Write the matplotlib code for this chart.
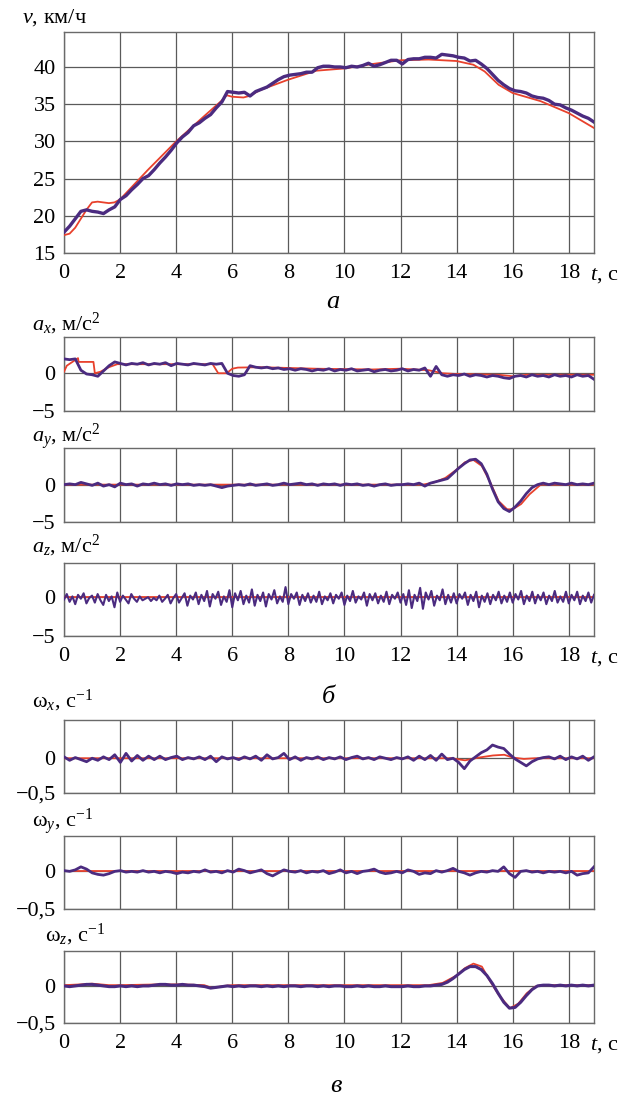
import matplotlib
matplotlib.use('Agg')

import numpy as np
import matplotlib.pyplot as plt

plt.rcParams['font.family'] = ['Liberation Serif', 'DejaVu Serif']
plt.rcParams['mathtext.fontset'] = 'custom'
plt.rcParams['mathtext.rm'] = 'Liberation Serif'
plt.rcParams['mathtext.it'] = 'Liberation Serif:italic'

PURPLE = '#4b2b80'
RED = '#e8412c'
GRID = '#5a5a5a'

# ---- data ----
T_END = 18.9
x_ticks = [0, 2, 4, 6, 8, 10, 12, 14, 16, 18]

# a) speed, km/h
v_meas = [17.8, 18.6, 19.6, 20.6, 20.8, 20.6, 20.5, 20.3, 20.8, 21.2,
          22.2, 22.7, 23.5, 24.2, 25.0, 25.4, 26.2, 27.1, 27.9, 28.8,
          29.8, 30.6, 31.2, 32.1, 32.5, 33.1, 33.6, 34.5, 35.3, 36.7,
          36.6, 36.5, 36.6, 36.1, 36.7, 37.0, 37.3, 37.8, 38.3, 38.7,
          38.9, 39.0, 39.1, 39.3, 39.3, 39.9, 40.1, 40.1, 40.0, 40.0,
          39.9, 40.1, 40.0, 40.2, 40.5, 40.1, 40.3, 40.6, 40.9, 40.9,
          40.4, 41.0, 41.1, 41.1, 41.3, 41.3, 41.2, 41.7, 41.6, 41.5,
          41.3, 41.2, 40.8, 40.9, 40.4, 39.8, 39.0, 38.2, 37.6, 37.1,
          36.8, 36.7, 36.5, 36.1, 35.9, 35.8, 35.5, 35.0, 34.9, 34.5,
          34.2, 33.8, 33.4, 33.1, 32.6]
v_model_t = [0, 0.2, 0.4, 0.6, 0.8, 1.0, 1.2, 1.6, 1.8, 2.0, 3.0, 4.0, 5.0, 5.6,
             5.8, 6.0, 6.4, 6.6, 7.0, 8.0, 9.0, 10.0, 11.0, 12.0, 13.0, 14.0,
             14.6, 15.0, 15.5, 16.0, 17.0, 18.0, 18.9]
v_model = [17.4, 17.6, 18.4, 19.6, 20.8, 21.8, 21.9, 21.7, 21.8, 22.2, 26.2,
           30.0, 33.4, 35.4, 36.2, 36.0, 35.9, 36.1, 36.9, 38.3, 39.5, 39.8,
           40.4, 40.9, 41.0, 40.8, 40.3, 39.4, 37.6, 36.5, 35.4, 33.8, 31.8]

# b) accelerations, m/s^2
ax_meas = [1.9, 1.8, 1.9, 0.4, -0.1, -0.2, -0.4, 0.3, 1.0, 1.5,
           1.3, 1.1, 1.3, 1.2, 1.4, 1.1, 1.3, 1.2, 1.4, 1.0,
           1.3, 1.2, 1.1, 1.3, 1.2, 1.1, 1.3, 1.2, 1.3, 0.0,
           -0.3, -0.4, -0.2, 1.0, 0.8, 0.7, 0.8, 0.6, 0.7, 0.5,
           0.6, 0.4, 0.6, 0.5, 0.3, 0.5, 0.4, 0.6, 0.3, 0.5,
           0.4, 0.6, 0.3, 0.4, 0.5, 0.2, 0.4, 0.5, 0.3, 0.4,
           0.6, 0.3, 0.5, 0.4, 0.7, -0.4, 0.9, -0.2, -0.4, -0.2,
           -0.3, -0.1, -0.4, -0.2, -0.3, -0.5, -0.3, -0.4, -0.6, -0.7,
           -0.4, -0.3, -0.5, -0.2, -0.4, -0.3, -0.5, -0.2, -0.4, -0.3,
           -0.5, -0.2, -0.4, -0.3, -0.8]
ax_model_t = [0, 0.1, 0.5, 0.52, 1.05, 1.1, 1.3, 1.6, 1.9, 5.3, 5.5, 5.8, 6.0,
              6.2, 7.0, 9.0, 11.0, 12.0, 13.0, 13.5, 14.0, 15.5, 16.0, 16.5, 18.9]
ax_model = [0.2, 1.0, 2.0, 1.5, 1.5, 0.0, 0.2, 0.8, 1.2, 1.2, 0.0, 0.0, 0.6,
            0.75, 0.8, 0.6, 0.5, 0.6, 0.4, 0.0, -0.1, -0.2, -0.4, -0.2, -0.2]

ay_meas = [0.0, 0.1, 0.0, 0.3, 0.1, -0.1, 0.2, -0.2, 0.0, -0.3,
           0.2, 0.0, 0.1, -0.2, 0.1, 0.0, 0.2, 0.0, 0.1, -0.1,
           0.1, 0.0, 0.1, -0.1, 0.0, -0.1, 0.0, -0.2, -0.4, -0.2,
           -0.1, 0.0, -0.1, 0.1, -0.1, 0.0, 0.1, -0.1, 0.0, 0.2,
           0.0, 0.1, 0.2, 0.0, 0.1, -0.1, 0.1, 0.0, 0.1, -0.1,
           0.1, 0.0, 0.1, -0.1, 0.0, -0.2, 0.0, 0.1, -0.1, 0.0,
           0.0, 0.1, 0.0, 0.2, -0.2, 0.2, 0.4, 0.6, 0.8, 1.5,
           2.2, 2.8, 3.3, 3.4, 2.8, 1.4, -0.6, -2.3, -3.2, -3.6,
           -3.0, -2.2, -1.2, -0.4, 0.0, 0.2, 0.0, 0.2, 0.1, 0.0,
           0.2, 0.0, 0.1, 0.0, 0.2]
ay_model_t = [0, 12.8, 13.2, 13.6, 14.0, 14.3, 14.6, 14.9, 15.2, 15.5, 15.8,
              16.0, 16.3, 16.6, 17.0, 18.9]
ay_model = [0.0, 0.0, 0.3, 0.9, 2.0, 3.0, 3.3, 2.5, 0.3, -2.2, -3.3, -3.3,
            -2.6, -1.3, 0.0, 0.0]

az_meas = [-0.3, 0.4, -0.6, 0.1, -0.9, 0.3, -0.2, 0.5, -0.8, -0.1,
           0.2, -0.7, 0.4, -0.4, -1.0, 0.3, -0.5, 0.1, -1.3, 0.6,
           -0.6, 0.2, -0.3, -0.8, 0.4, -0.2, -0.6, 0.1, -0.4, -0.2,
           0.0, -0.5, -0.1, -0.4, 0.2, -0.6, -0.2, 0.3, -0.8, -0.1,
           0.4, -0.7, -0.1, 0.5, -1.1, 0.2, -0.3, 0.6, -0.9, 0.3,
           -0.5, 0.8, -1.2, 0.4, -0.2, 0.7, -1.0, 0.1, -0.6, 0.9,
           -1.3, 0.5, -0.4, 0.8, -0.9, 0.2, -0.7, 1.0, -1.1, 0.3,
           -0.5, 0.6, -1.2, 0.4, -0.3, 0.9, -0.8, 0.1, -0.6, 1.3,
           -0.9, 0.4, -0.2, 0.6, -1.0, 0.3, -0.5, 0.5, -0.7, 0.2,
           -0.6, 0.7, -0.9, 0.1, -0.4, 0.5, -0.8, 0.3, -0.2, 0.6,
           -1.0, 0.2, -0.5, 0.8, -0.7, 0.1, -0.3, 0.6, -1.1, 0.4,
           -0.4, 0.5, -0.8, 0.2, -0.6, 0.7, -0.9, 0.3, -0.2, 0.6,
           -0.7, 0.4, -1.0, 0.9, -1.4, 0.3, -0.5, 1.2, -1.5, 0.6,
           -0.3, 0.8, -1.1, 0.2, -0.4, 1.0, -0.9, 0.3, -0.7, 0.5,
           -0.8, 0.4, -0.2, 0.6, -1.0, 0.3, -0.5, 0.7, -1.3, 0.2,
           -0.6, 0.5, -0.9, 0.3, -0.4, 0.7, -0.8, 0.2, -0.6, 0.6,
           -0.7, 0.4, -0.3, 0.8, -0.9, 0.2, -0.5, 0.7, -0.8, 0.3,
           -0.4, 0.6, -0.9, 0.2, -0.5, 0.8, -0.7, 0.1, -0.6, 0.7,
           -0.8, 0.3, -0.4, 0.7, -0.9, 0.2, -0.5, 0.6, -0.7, 0.3]
az_model_t = [0, 18.9]
az_model = [0.0, 0.0]

# c) angular rates, 1/s
wx_meas = [0.02, -0.03, 0.01, -0.02, -0.05, 0.0, -0.03, 0.02, -0.02, 0.05,
           -0.06, 0.07, -0.04, 0.04, -0.03, 0.03, -0.02, 0.03, -0.02, 0.01,
           0.03, -0.02, 0.01, -0.01, 0.02, -0.02, 0.03, -0.05, 0.02, -0.01,
           0.01, -0.02, 0.02, -0.01, 0.03, -0.03, 0.05, -0.01, 0.01, 0.07,
           -0.02, 0.02, -0.03, 0.01, -0.01, 0.02, -0.02, 0.01, -0.01, 0.02,
           -0.02, 0.01, 0.03, -0.01, 0.01, -0.02, 0.02, 0.0, -0.02, 0.01,
           -0.01, 0.02, -0.03, 0.03, -0.02, 0.04, -0.03, 0.06, -0.02, 0.0,
           -0.06, -0.15, -0.04, 0.02, 0.08, 0.12, 0.19, 0.16, 0.14, 0.06,
           -0.01, -0.06, -0.11, -0.05, -0.01, 0.01, 0.02, -0.01, 0.03, -0.02,
           0.02, -0.01, 0.03, -0.03, 0.02]
wx_model_t = [0, 13.8, 14.3, 14.8, 15.3, 15.7, 16.0, 16.4, 16.8, 18.9]
wx_model = [0.0, 0.0, -0.03, 0.01, 0.04, 0.05, 0.01, -0.01, 0.0, 0.0]

wy_meas = [0.01, 0.0, 0.02, 0.06, 0.03, -0.02, -0.04, -0.05, -0.03, 0.0,
           0.01, -0.01, 0.0, -0.01, 0.01, -0.01, 0.0, -0.02, 0.0, -0.01,
           -0.03, -0.01, -0.02, 0.0, -0.01, 0.02, -0.01, 0.0, -0.02, 0.01,
           -0.01, 0.03, 0.01, -0.02, 0.0, 0.02, -0.03, -0.06, -0.02, 0.02,
           0.0, -0.01, 0.01, -0.02, 0.0, -0.01, 0.01, -0.03, -0.01, 0.02,
           -0.02, 0.0, -0.03, 0.0, 0.01, 0.03, -0.01, -0.03, -0.02, 0.0,
           -0.02, 0.02, 0.0, -0.04, -0.02, -0.03, 0.01, -0.01, 0.01, 0.04,
           0.0, -0.02, -0.05, -0.02, 0.0, -0.01, 0.01, 0.0, 0.06, -0.03,
           -0.08, 0.0, 0.01, -0.01, 0.0, -0.02, 0.0, -0.01, 0.0, -0.02,
           0.0, -0.05, -0.03, -0.02, 0.06]
wy_model_t = [0, 18.9]
wy_model = [0.01, 0.01]

wz_meas = [0.0, -0.01, 0.0, 0.01, 0.02, 0.02, 0.01, 0.0, -0.01, -0.01,
           0.0, -0.01, 0.0, -0.01, 0.0, 0.0, 0.01, 0.02, 0.02, 0.01,
           0.01, 0.02, 0.01, 0.01, 0.0, -0.01, -0.03, -0.02, -0.01, 0.0,
           -0.01, 0.0, -0.01, 0.0, 0.0, -0.01, 0.0, -0.01, 0.0, -0.01,
           0.0, 0.0, -0.01, 0.0, 0.0, -0.01, 0.0, -0.01, 0.0, 0.0,
           -0.01, -0.01, 0.0, -0.01, 0.0, -0.01, -0.01, 0.0, -0.01, -0.01,
           -0.01, 0.0, -0.01, -0.01, 0.0, 0.0, 0.01, 0.02, 0.05, 0.1,
           0.16, 0.22, 0.26, 0.26, 0.22, 0.14, 0.03, -0.1, -0.22, -0.3,
           -0.29, -0.22, -0.13, -0.05, 0.0, 0.01, 0.01, 0.0, 0.01, 0.0,
           0.01, 0.0, 0.01, 0.0, 0.01]
wz_model_t = [0, 0.6, 1.0, 1.6, 2.0, 3.4, 4.2, 5.0, 5.3, 5.7, 6.0, 13.0, 13.5,
              14.0, 14.3, 14.6, 14.9, 15.2, 15.5, 15.9, 16.2, 16.5, 16.8, 17.0, 18.9]
wz_model = [0.01, 0.02, 0.03, 0.01, 0.01, 0.02, 0.02, 0.01, -0.03, 0.0, 0.01,
            0.01, 0.04, 0.14, 0.24, 0.3, 0.26, 0.06, -0.12, -0.3, -0.24, -0.1,
            -0.01, 0.01, 0.01]

# panel layout in pixels of the 634x1095 picture
W, H = 634, 1095
LEFT, RIGHT = 64, 594
panels = [
    (v_meas, v_model_t, v_model, (15, 44.7), [15, 20, 25, 30, 35, 40],
     ['15', '20', '25', '30', '35', '40'], r'$v$, км/ч', (32, 253), True, (22, 23), 2.4),
    (ax_meas, ax_model_t, ax_model, (-5, 4.8), [-5, 0], ['\u22125', '0'],
     r'$a_x$, м/с$^2$', (337, 411), False, (32, 330), 2.0),
    (ay_meas, ay_model_t, ay_model, (-5, 4.9), [-5, 0], ['\u22125', '0'],
     r'$a_y$, м/с$^2$', (448, 522), False, (32, 442), 2.0),
    (az_meas, az_model_t, az_model, (-5, 4.4), [-5, 0], ['\u22125', '0'],
     r'$a_z$, м/с$^2$', (563, 636), True, (32, 552), 1.5),
    (wx_meas, wx_model_t, wx_model, (-0.5, 0.55), [-0.5, 0], ['\u22120,5', '0'],
     r'ω$_x$, с$^{-1}$', (720, 793), False, (32, 707), 2.0),
    (wy_meas, wy_model_t, wy_model, (-0.5, 0.47), [-0.5, 0], ['\u22120,5', '0'],
     r'ω$_y$, с$^{-1}$', (836, 909), False, (32, 827), 2.0),
    (wz_meas, wz_model_t, wz_model, (-0.5, 0.47), [-0.5, 0], ['\u22120,5', '0'],
     r'ω$_z$, с$^{-1}$', (951, 1023), True, (45, 941), 2.2),
]

fig = plt.figure(figsize=(W / 100, H / 100), dpi=100)

for meas, mt, mv, ylim, yt, ytl, label, (top, bot), show_x, (lx, ly), lw in panels:
    ax = fig.add_axes([LEFT / W, 1 - bot / H, (RIGHT - LEFT) / W, (bot - top) / H])
    t = np.linspace(0, T_END, len(meas))
    ax.plot(mt, mv, color=RED, lw=1.3, zorder=3)
    ax.plot(t, meas, color=PURPLE, lw=lw, zorder=4)
    ax.set_xlim(0, T_END)
    ax.set_ylim(*ylim)
    ax.set_xticks(x_ticks)
    ax.set_yticks(yt)
    ax.set_yticklabels(ytl)
    if show_x:
        ax.set_xticklabels([str(v) for v in x_ticks])
    else:
        ax.set_xticklabels([])
    ax.tick_params(length=0, labelsize=16, pad=6)
    ax.tick_params(axis='x', pad=8)
    ax.grid(True, color=GRID, lw=0.9)
    for s in ax.spines.values():
        s.set_color('#6a6a6a')
        s.set_linewidth(1.0)
    fig.text(lx / W, 1 - ly / H, label, fontsize=16, va='baseline', ha='left')
    if show_x:
        fig.text(590 / W, 1 - (bot + 27) / H, r'$t$, с', fontsize=16,
                 va='baseline', ha='left')

# panel letters
fig.text(333 / W, 1 - 308 / H, 'а', fontsize=19, style='italic', ha='center', va='baseline')
fig.text(328 / W, 1 - 703 / H, 'б', fontsize=19, style='italic', ha='center', va='baseline')
fig.text(336 / W, 1 - 1092 / H, 'в', fontsize=19, style='italic', ha='center', va='baseline')

fig.savefig('out.png', dpi=100)
